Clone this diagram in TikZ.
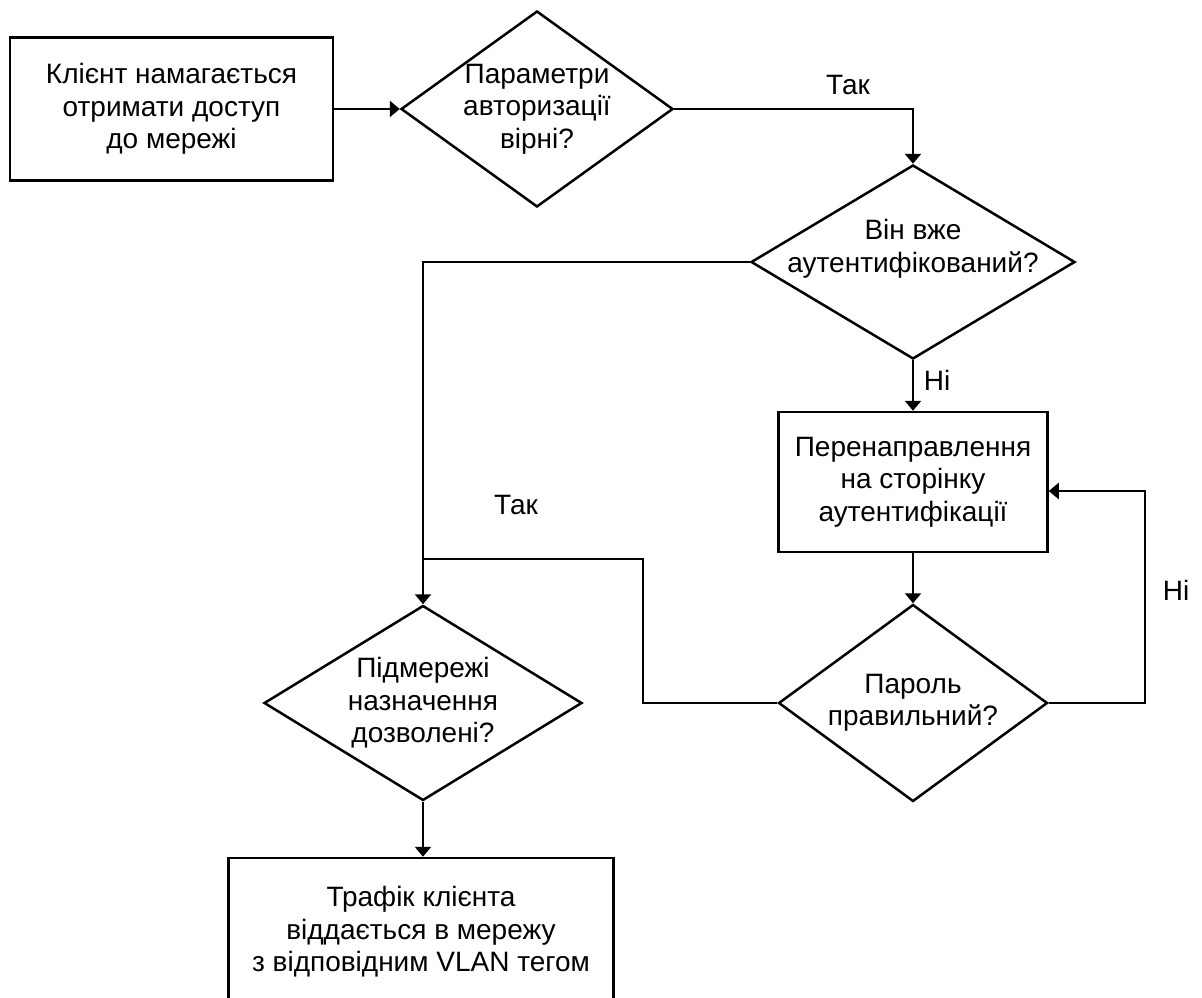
\documentclass[tikz,border=0pt]{standalone}
\usepackage{fontspec}
\setmainfont{Liberation Sans}
\usetikzlibrary{shapes.geometric,arrows.meta}
\begin{document}
\begin{tikzpicture}[x=1pt,y=-1pt,
  every node/.style={font=\fontsize{28}{32.5}\selectfont},
  box/.style={draw,line width=2.5pt,rectangle,align=center,inner sep=0pt},
  dec/.style={draw,line width=2.5pt,diamond,inner sep=0pt},
  inner/.style={align=center,inner sep=0pt},
  conn/.style={line width=2.5pt},
  arr/.style={conn,-{Triangle[length=10pt,width=16pt]}},
  lbl/.style={inner sep=0pt}]
\useasboundingbox[fill=white] (0,0) rectangle (1202,998);
\node[box,minimum width=323pt,minimum height=143pt] (b1) at (171.5,109)
  {Клієнт намагається\\отримати доступ\\до мережі};
\node[dec,minimum width=272pt,minimum height=196pt,
  label={[inner]center:{Параметри\\авторизації\\вірні?}}] (d1) at (537,109) {};
\node[dec,minimum width=324pt,minimum height=194pt,
  label={[inner,yshift=13pt]center:{Він вже\\аутентифікований?}}] (d2) at (913,262) {};
\node[box,minimum width=269pt,minimum height=140pt] (b2) at (913,482)
  {Перенаправлення\\на сторінку\\аутентифікації};
\node[dec,minimum width=269pt,minimum height=197pt,
  label={[inner]center:{Пароль\\правильний?}}] (d4) at (913,703) {};
\node[dec,minimum width=318pt,minimum height=195pt,
  label={[inner]center:{Підмережі\\назначення\\дозволені?}}] (d3) at (423,703) {};
\node[box,minimum width=385pt,minimum height=148pt] (b3) at (421,932)
  {Трафік клієнта\\віддається в мережу\\з відповідним VLAN тегом};

\draw[arr] (b1.east) -- (d1.west);
\draw[arr] (d1.east) -| (d2.north);
\node[lbl] (t1) at (848,85) {Так};
\draw[arr] (d2.west) -| (d3.north);
\draw[arr] (d2.south) -- (b2.north);
\node[lbl] (n1) at (937,380) {Ні};
\draw[arr] (b2.south) -- (d4.north);
\coordinate (r1) at (1145,703);
\draw[arr] (d4.east) -- (r1) |- ([yshift=-9pt]b2.east);
\node[lbl] (n2) at (1176,590) {Ні};
\coordinate (l1) at (643,703);
\coordinate (l2) at (423,559);
\draw[conn] (d4.west) -- (l1) |- (l2);
\node[lbl] (t2) at (516,505) {Так};
\draw[arr] (d3.south) -- ([xshift=2pt]b3.north);
\end{tikzpicture}
\end{document}
